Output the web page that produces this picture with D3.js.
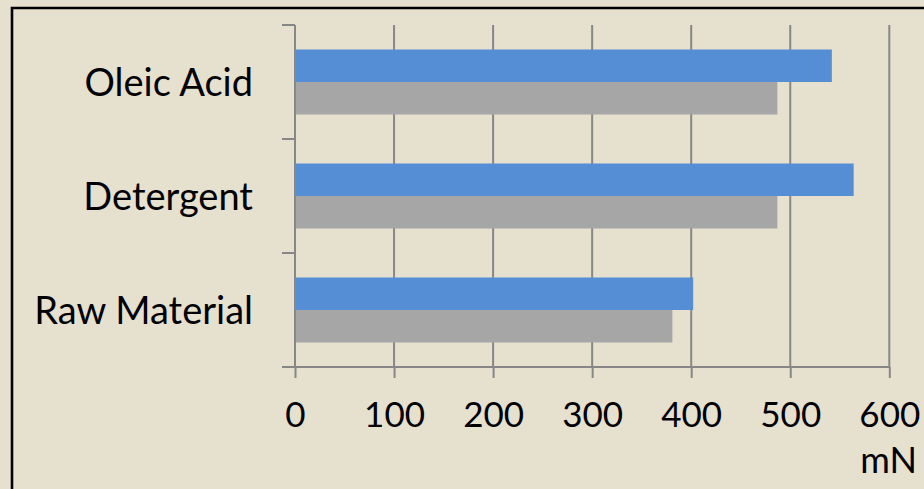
<!DOCTYPE html>
<html>
<head>
<meta charset="utf-8">
<script src="https://cdn.jsdelivr.net/npm/d3@7"></script>
<style>
  html, body { margin: 0; padding: 0; background: #e6e0cf; }
  svg { display: block; }
  text { font-family: Lato, "Open Sans", sans-serif; fill: #000; }
</style>
</head>
<body>
<svg id="chart" width="924" height="489"></svg>
<script>
// Surface tension readings (mN) per sample treatment
const categories = ["Raw Material", "Detergent", "Oleic Acid"];
const seriesBlue = [402, 564, 542];
const seriesGray = [381, 487, 487];
const xTicks = [0, 100, 200, 300, 400, 500, 600];
const unitLabel = "mN";

const svg = d3.select("#chart");
const W = 924, H = 489;
const plotLeft = 295, plotRight = 889.3, plotTop = 25, plotBottom = 367;

svg.append("rect").attr("width", W).attr("height", H).attr("fill", "#e6e0cf");

// frame: top and left edges only
svg.append("path")
  .attr("d", `M12,${H + 5} V8 H${W + 5}`)
  .attr("fill", "none").attr("stroke", "#000").attr("stroke-width", 2.6);

const x = d3.scaleLinear().domain([0, 600]).range([plotLeft, plotRight]);

// top-down order: Oleic Acid, Detergent, Raw Material
const y = d3.scaleBand()
  .domain(categories.slice().reverse())
  .range([plotTop, plotBottom])
  .paddingInner(0.43)
  .paddingOuter(0.215);

const sub = d3.scaleBand().domain(["blue", "gray"]).range([0, y.bandwidth()]);

const gridColor = "#878787";

// vertical gridlines
svg.append("g").selectAll("line").data(xTicks.slice(1)).join("line")
  .attr("x1", d => x(d)).attr("x2", d => x(d))
  .attr("y1", plotTop).attr("y2", plotBottom)
  .attr("stroke", gridColor).attr("stroke-width", 2);

// bars
const rows = categories.map((c, i) => ({ c, blue: seriesBlue[i], gray: seriesGray[i] }));
const g = svg.append("g");
g.selectAll("rect.gray").data(rows).join("rect").attr("class", "gray")
  .attr("x", x(0)).attr("y", d => y(d.c) + sub("gray"))
  .attr("width", d => x(d.gray) - x(0)).attr("height", sub.bandwidth())
  .attr("fill", "#a6a6a6");
g.selectAll("rect.blue").data(rows).join("rect").attr("class", "blue")
  .attr("x", x(0)).attr("y", d => y(d.c) + sub("blue"))
  .attr("width", d => x(d.blue) - x(0)).attr("height", sub.bandwidth())
  .attr("fill", "#558ed5");

// x axis
const xAxis = svg.append("g").attr("transform", `translate(0,${plotBottom})`)
  .call(d3.axisBottom(x).tickValues(xTicks).tickSize(11).tickPadding(25).tickSizeOuter(0));
xAxis.select(".domain").attr("d", `M282,0H${plotRight}`)
  .attr("stroke", gridColor).attr("stroke-width", 2);
xAxis.selectAll(".tick line").attr("stroke", gridColor).attr("stroke-width", 2);
xAxis.selectAll(".tick text").attr("font-size", 35).attr("font-family", "Lato, sans-serif")
  .attr("fill", "#000").attr("dy", "0.69em");

// y axis with ticks at band boundaries
svg.append("line").attr("x1", plotLeft).attr("x2", plotLeft).attr("y1", plotTop).attr("y2", plotBottom)
  .attr("stroke", gridColor).attr("stroke-width", 2);
const bounds = d3.range(categories.length + 1).map(i => plotTop + i * y.step());
svg.append("g").selectAll("line").data(bounds).join("line")
  .attr("x1", 282).attr("x2", plotLeft).attr("y1", d => d).attr("y2", d => d)
  .attr("stroke", gridColor).attr("stroke-width", 2);

// category labels
svg.append("g").selectAll("text").data(categories).join("text")
  .attr("x", 253).attr("y", d => y(d) + y.bandwidth() / 2)
  .attr("dy", "0.36em")
  .attr("text-anchor", "end").attr("font-size", 38)
  .text(d => d);

// unit label
svg.append("text").attr("x", 917).attr("y", 473)
  .attr("text-anchor", "end").attr("font-size", 36).text(unitLabel);
</script>
</body>
</html>
